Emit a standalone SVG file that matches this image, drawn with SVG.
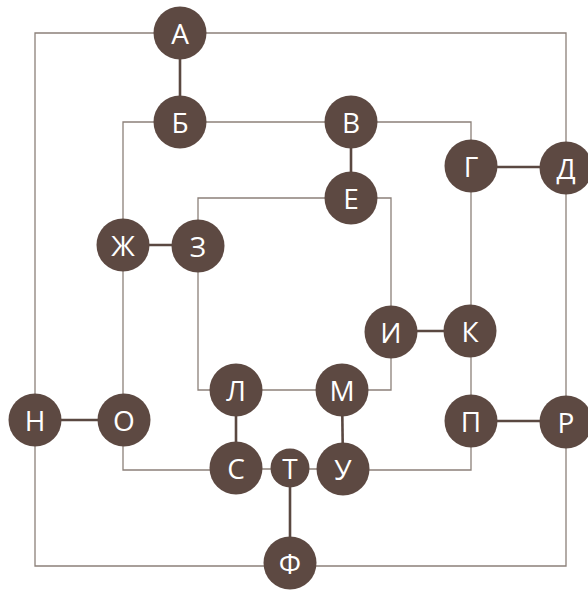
<svg xmlns="http://www.w3.org/2000/svg" width="588" height="590" viewBox="0 0 588 590">
<style>
.thin{fill:none;stroke:#8c8079;stroke-width:1.3}
.thick{fill:none;stroke:#5a4841;stroke-width:2.6}
.n circle{fill:#5d4942}
.n text{fill:#ffffff;font-family:"Open Sans","DejaVu Sans",sans-serif;font-size:28px;text-anchor:middle;dominant-baseline:central}
</style>
<rect width="588" height="590" fill="#ffffff"/>
<g id="connectors">
<polyline class="thin" points="180,33 35,33 35,420"/>
<polyline class="thin" points="180,33 566,33 566,168"/>
<polyline class="thin" points="180,122 123,122 123,245"/>
<line class="thin" x1="180" y1="122" x2="351" y2="122"/>
<polyline class="thin" points="351,122 471,122 471,166"/>
<polyline class="thin" points="351,198 198,198 198,246"/>
<polyline class="thin" points="351,198 391,198 391,332"/>
<line class="thin" x1="471" y1="166" x2="471" y2="331"/>
<line class="thin" x1="566" y1="168" x2="566" y2="422"/>
<line class="thin" x1="123" y1="245" x2="123" y2="420"/>
<polyline class="thin" points="198,246 198,390 236,390"/>
<line class="thin" x1="236" y1="390" x2="342" y2="390"/>
<polyline class="thin" points="342,390 391,390 391,332"/>
<line class="thin" x1="471" y1="331" x2="471" y2="421"/>
<polyline class="thin" points="471,421 471,470 343,470"/>
<polyline class="thin" points="123,420 123,470 236,470"/>
<line class="thin" x1="236" y1="469" x2="343" y2="469"/>
<polyline class="thin" points="35,420 35,566 290,566"/>
<polyline class="thin" points="290,566 566,566 566,422"/>
<line class="thick" x1="180" y1="33" x2="180" y2="122"/>
<line class="thick" x1="351" y1="122" x2="351" y2="198"/>
<line class="thick" x1="471" y1="167" x2="566" y2="167"/>
<line class="thick" x1="123" y1="245" x2="198" y2="245"/>
<line class="thick" x1="391" y1="331" x2="471" y2="331"/>
<line class="thick" x1="471" y1="421" x2="566" y2="421"/>
<line class="thick" x1="342" y1="390" x2="343" y2="469"/>
<line class="thick" x1="35" y1="420" x2="124" y2="420"/>
<line class="thick" x1="236" y1="390" x2="236" y2="468"/>
<line class="thick" x1="290" y1="468" x2="290" y2="563"/>
</g>
<g id="A" class="n"><circle cx="180" cy="33" r="26.5"/><text x="180" y="33">А</text></g>
<g id="B1" class="n"><circle cx="180" cy="122" r="26.5"/><text x="180" y="122">Б</text></g>
<g id="V" class="n"><circle cx="351" cy="122" r="26.5"/><text x="351" y="122">В</text></g>
<g id="G" class="n"><circle cx="471" cy="166" r="26.5"/><text x="471" y="166">Г</text></g>
<g id="D" class="n"><circle cx="566" cy="168" r="26.5"/><text x="566" y="168">Д</text></g>
<g id="E" class="n"><circle cx="351" cy="198" r="26.5"/><text x="351" y="198">Е</text></g>
<g id="ZH" class="n"><circle cx="123" cy="245" r="26.5"/><text x="123" y="245">Ж</text></g>
<g id="Z" class="n"><circle cx="198" cy="246" r="26.5"/><text x="198" y="246">З</text></g>
<g id="I" class="n"><circle cx="391" cy="332" r="26.5"/><text x="391" y="332">И</text></g>
<g id="K" class="n"><circle cx="470" cy="331" r="26.5"/><text x="470" y="331">К</text></g>
<g id="L" class="n"><circle cx="236" cy="390" r="26.5"/><text x="236" y="390">Л</text></g>
<g id="M" class="n"><circle cx="342" cy="390" r="26.5"/><text x="342" y="390">М</text></g>
<g id="N" class="n"><circle cx="35" cy="420" r="26.5"/><text x="35" y="420">Н</text></g>
<g id="O" class="n"><circle cx="124" cy="420" r="26.5"/><text x="124" y="420">О</text></g>
<g id="P" class="n"><circle cx="471" cy="421" r="26.5"/><text x="471" y="421">П</text></g>
<g id="R" class="n"><circle cx="566" cy="422" r="26.5"/><text x="566" y="422">Р</text></g>
<g id="S" class="n"><circle cx="236" cy="468" r="26.5"/><text x="236" y="468">С</text></g>
<g id="T" class="n"><circle cx="290" cy="468" r="19.5"/><text x="290" y="468">Т</text></g>
<g id="U" class="n"><circle cx="343" cy="469" r="26.5"/><text x="343" y="469">У</text></g>
<g id="F" class="n"><circle cx="290" cy="563" r="26.5"/><text x="290" y="563">Ф</text></g>
</svg>
